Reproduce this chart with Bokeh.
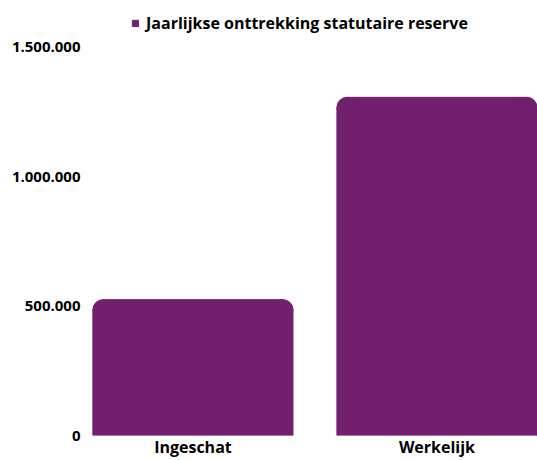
from bokeh.plotting import figure
from bokeh.models import ColumnDataSource, Range1d, FixedTicker, Legend, LegendItem
from bokeh.embed import file_html
from bokeh.resources import INLINE

categories = ["Ingeschat", "Werkelijk"]
values = [525000, 1307000]
series_name = "Jaarlijkse onttrekking statutaire reserve"
y_ticks = [0, 500000, 1000000, 1500000]
y_tick_labels = ["0", "500.000", "1.000.000", "1.500.000"]

color = "#721F6E"
font = "Open Sans"

# layout constants
W, H = 537, 460
BL, BR, BT, BB = 88, 0, 10, 24
BAR_W = 0.82
X0, X1 = -0.428, 1.412
FRAME_W_PX = W - BL - BR
FRAME_H_PX = H - BT - BB
Y0 = 0
Y1 = 1500000 * FRAME_H_PX / 389.0   # leave room above the top tick for the legend
R_PX = 10
rx = R_PX * (X1 - X0) / FRAME_W_PX
ry = R_PX * (Y1 - Y0) / FRAME_H_PX

xs = list(range(len(categories)))
body = ColumnDataSource(data=dict(x=xs, top=[v - ry for v in values], cat=categories))
strip = ColumnDataSource(data=dict(x=xs, bottom=[v - ry for v in values], top=values))
cx, cy = [], []
for x, v in zip(xs, values):
    cx += [x - BAR_W / 2 + rx, x + BAR_W / 2 - rx]
    cy += [v - ry, v - ry]
corners = ColumnDataSource(data=dict(x=cx, y=cy))

p = figure(width=W, height=H, output_backend="svg", toolbar_location=None,
           x_range=Range1d(X0, X1), y_range=Range1d(Y0, Y1),
           min_border_left=BL, min_border_right=BR, min_border_top=BT, min_border_bottom=BB)

r = p.vbar(x="x", top="top", width=BAR_W, source=body, color=color)
p.vbar(x="x", bottom="bottom", top="top", width=BAR_W - 2 * rx, source=strip, color=color)
p.circle(x="x", y="y", radius=R_PX, radius_units="screen", source=corners, color=color)

p.xaxis.ticker = FixedTicker(ticks=xs)
p.xaxis.major_label_overrides = {i: c for i, c in zip(xs, categories)}
p.yaxis.ticker = FixedTicker(ticks=y_ticks)
p.yaxis.major_label_overrides = {t: l for t, l in zip(y_ticks, y_tick_labels)}

for ax in (p.xaxis[0], p.yaxis[0]):
    ax.axis_line_color = None
    ax.major_tick_line_color = None
    ax.minor_tick_line_color = None
    ax.major_tick_out = 0
    ax.major_tick_in = 0
    ax.minor_tick_out = 0
    ax.minor_tick_in = 0
    ax.major_label_text_font = font
    ax.major_label_text_font_style = "bold"
    ax.major_label_text_color = "#000000"
p.yaxis.major_label_text_font_size = "15px"
p.xaxis.major_label_text_font_size = "16px"
p.yaxis.major_label_standoff = 8
p.xaxis.major_label_standoff = 0

p.xgrid.grid_line_color = None
p.ygrid.grid_line_color = None
p.outline_line_color = None

legend = Legend(items=[LegendItem(label=series_name, renderers=[r])],
                location=(43, 401), orientation="horizontal",
                label_text_font=font, label_text_font_style="bold",
                label_text_font_size="16px", label_text_color="#000000",
                glyph_width=8, glyph_height=8, border_line_color=None,
                background_fill_alpha=0, padding=0, margin=0, label_standoff=7)
p.add_layout(legend, "center")

open("out.html", "w").write(file_html(p, INLINE))
